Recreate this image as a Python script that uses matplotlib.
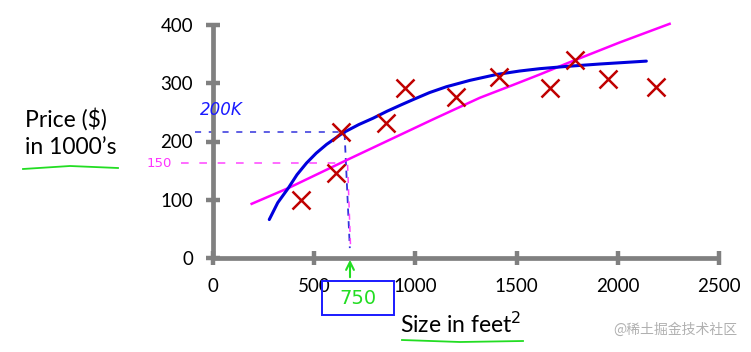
import matplotlib
matplotlib.use("Agg")
import matplotlib.pyplot as plt
from matplotlib.patches import FancyArrowPatch, Rectangle

plt.rcParams['font.family'] = ['Lato', 'DejaVu Sans']

# data: training examples (size in feet^2, price in $1000s)
sizes = [433, 607, 630, 857, 951, 1203, 1413, 1663, 1787, 1951, 2187]
prices = [100, 146, 217, 232, 291, 276, 311, 291, 340, 308, 294]

# straight-ish fit (magenta)
lin_x = [191, 372, 660, 1087, 1318, 1482, 1614, 1762, 2009, 2256]
lin_y = [93, 120, 168, 238, 275, 297, 315, 336, 370, 402]

# curved fit (blue)
quad_x = [278, 320, 372, 415, 462, 510, 561, 643, 720, 791, 860, 930, 989,
          1070, 1153, 1270, 1400, 1515, 1614, 1750, 1910, 2141]
quad_y = [66, 95, 120, 143, 163, 180, 195, 215, 229, 240, 252, 263, 272,
          284, 294, 305, 315, 321, 325, 329, 333, 338]

xticks = [0, 500, 1000, 1500, 2000, 2500]
yticks = [0, 100, 200, 300, 400]

W, H = 751, 352
fig = plt.figure(figsize=(W / 100, H / 100), dpi=100)
ax = fig.add_axes([213 / W, 94 / H, 506 / W, 233 / H])
ax.set_xlim(0, 2500)
ax.set_ylim(0, 400)

gray = '#808080'
for s in ['top', 'right']:
    ax.spines[s].set_visible(False)
for s in ['left', 'bottom']:
    ax.spines[s].set_color(gray)
    ax.spines[s].set_linewidth(3.4)
    ax.spines[s].set_capstyle('butt')
ax.set_xticks(xticks)
ax.set_yticks(yticks)
ax.tick_params(direction='inout', length=10.5, width=3.2, color=gray,
               labelsize=13.5, pad=9)

ax.plot(lin_x, lin_y, color='#ff00ff', lw=1.8, clip_on=False, zorder=3,
        solid_joinstyle='round')
ax.plot(quad_x, quad_y, color='#0000dd', lw=2.2, clip_on=False, zorder=3,
        solid_joinstyle='round', solid_capstyle='round')
ax.plot(sizes, prices, 'x', color='#c00000', ms=13.5, mew=1.8, clip_on=False, zorder=4)

# dashed guides
ax.plot([-90, 640], [217, 217], ls=(0, (4, 5)), color='#3333dd', lw=1.1, clip_on=False)
ax.plot([650, 676], [215, 17], ls=(0, (4, 3)), color='#3333dd', lw=1.3, clip_on=False)
ax.plot([-160, 640], [163, 163], ls=(0, (5, 7)), color='#ff44ff', lw=1.1, clip_on=False)
ax.plot([665, 680], [160, 15], ls=(0, (4, 4)), color='#ff44ff', lw=1.1, clip_on=False)

# handwritten notes
fig.text(200 / W, 1 - 110 / H, '200K', color='#1a1aff', fontsize=12,
         family=['DejaVu Sans'], style='italic', va='center', ha='left')
fig.text(147 / W, 1 - 163 / H, '150', color='#ff33ff', fontsize=9.5,
         family=['DejaVu Sans'], va='center', ha='left')
fig.text(358 / W, 1 - 299 / H, '750', color='#22dd22', fontsize=14,
         family=['DejaVu Sans'], va='center', ha='center')
fig.patches.append(Rectangle((322 / W, 1 - 315 / H), 72 / W, 34 / H,
                             transform=fig.transFigure, fill=False,
                             edgecolor='#1a1aff', lw=1.4))
fig.patches.append(FancyArrowPatch((350 / W, 1 - 280 / H), (350 / W, 1 - 257 / H),
                                   transform=fig.transFigure, arrowstyle='->',
                                   mutation_scale=14, color='#22dd22', lw=1.5))

# axis labels
fig.text(25 / W, 1 - 133 / H, "Price ($)\nin 1000’s", fontsize=16.5,
         va='center', ha='left', linespacing=1.4)
fig.lines.append(plt.Line2D([23 / W, 70 / W, 118 / W], [1 - 169 / H, 1 - 166 / H, 1 - 168 / H],
                            transform=fig.transFigure, color='#22dd22', lw=1.3))
fig.text(400 / W, 1 - 324 / H, 'Size in feet$^2$', fontsize=16.5, va='center', ha='left')
fig.lines.append(plt.Line2D([402 / W, 460 / W, 523 / W], [1 - 340 / H, 1 - 342 / H, 1 - 341 / H],
                            transform=fig.transFigure, color='#22dd22', lw=1.3))

fig.text(737 / W, 1 - 330 / H, '@稀土掘金技术社区', color='#b0b0b0', fontsize=10,
         family=['Noto Sans CJK SC', 'DejaVu Sans'], va='center', ha='right')

fig.savefig('out.png', dpi=100)
